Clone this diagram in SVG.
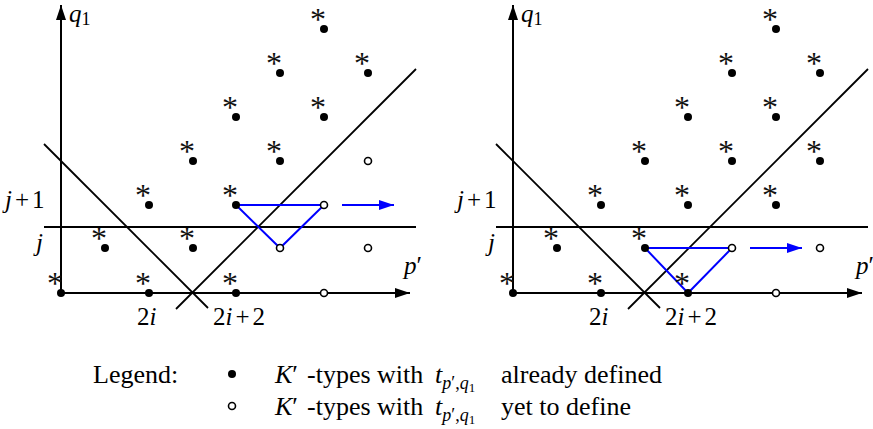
<svg xmlns="http://www.w3.org/2000/svg" width="873" height="429" viewBox="0 0 873 429">
<style>
.ax{stroke:#000;stroke-width:2;fill:none}
.ln{stroke:#000;stroke-width:1.8;fill:none}
.bl{stroke:#0000ff;stroke-width:2;fill:none}
.f{fill:#000}
.o{fill:#fff;stroke:#000;stroke-width:1.6}
.st{font-size:32px;fill:#111;text-anchor:middle}
.lb{font-size:25px;fill:#000}
.lg{font-size:26px;fill:#000}
.it{font-style:italic}
</style>
<defs>
<marker id="ak" markerUnits="userSpaceOnUse" markerWidth="16" markerHeight="10" refX="15" refY="5" orient="auto"><path d="M0,0 L15,5 L0,10 z" fill="#000"/></marker>
<marker id="ab" markerUnits="userSpaceOnUse" markerWidth="16" markerHeight="10" refX="15" refY="5" orient="auto"><path d="M0,0 L15,5 L0,10 z" fill="#0000ff"/></marker>
<g id="star"><text class="st" x="0" y="0" font-family="Liberation Serif">*</text></g>
</defs>
<g font-family="Liberation Serif">
<g id="left-panel">
<g id="connectors-left">
<line class="ax" x1="61" y1="293" x2="410" y2="293" marker-end="url(#ak)"/>
<line class="ax" x1="61" y1="293" x2="61" y2="5" marker-end="url(#ak)"/>
<line class="ln" x1="44" y1="227" x2="416" y2="227"/>
<line class="ln" x1="44" y1="144" x2="208" y2="308"/>
<line class="ln" x1="176" y1="309" x2="416" y2="69"/>
<polygon class="bl" points="236,205 324,205 280,248"/>
<line class="bl" x1="342" y1="205" x2="394" y2="205" marker-end="url(#ab)"/>
</g>
<g id="points-left">
<circle class="f" cx="61" cy="293" r="4"/><circle class="f" cx="149" cy="293" r="4"/><circle class="f" cx="236" cy="293" r="4"/><circle class="o" cx="324" cy="293" r="3.5"/>
<circle class="f" cx="105" cy="248" r="4"/><circle class="f" cx="193" cy="248" r="4"/><circle class="o" cx="280" cy="248" r="3.5"/><circle class="o" cx="368" cy="248" r="3.5"/>
<circle class="f" cx="149" cy="205" r="4"/><circle class="f" cx="236" cy="205" r="4"/><circle class="o" cx="324" cy="205" r="3.5"/>
<circle class="f" cx="193" cy="161" r="4"/><circle class="f" cx="280" cy="161" r="4"/><circle class="o" cx="368" cy="161" r="3.5"/>
<circle class="f" cx="236" cy="117" r="4"/><circle class="f" cx="324" cy="117" r="4"/>
<circle class="f" cx="280" cy="73" r="4"/><circle class="f" cx="368" cy="73" r="4"/>
<circle class="f" cx="324" cy="29" r="4"/>
</g>
<g id="stars-left">
<use href="#star" x="55" y="294"/><use href="#star" x="143" y="294"/><use href="#star" x="230" y="294"/>
<use href="#star" x="99" y="249"/><use href="#star" x="187" y="249"/>
<use href="#star" x="143" y="206"/><use href="#star" x="230" y="206"/>
<use href="#star" x="187" y="162"/><use href="#star" x="274" y="162"/>
<use href="#star" x="230" y="118"/><use href="#star" x="318" y="118"/>
<use href="#star" x="274" y="74"/><use href="#star" x="362" y="74"/>
<use href="#star" x="318" y="30"/>
</g>
<g id="labels-left">
<text class="lb" x="69" y="22"><tspan class="it">q</tspan><tspan font-size="18" dy="3">1</tspan></text>
<text class="lb" x="5" y="208"><tspan class="it">j</tspan><tspan dx="3">+</tspan><tspan dx="3">1</tspan></text>
<text class="lb it" x="36" y="251">j</text>
<text class="lb" x="404" y="274"><tspan class="it">p</tspan>′</text>
<text class="lb" x="137" y="325">2<tspan class="it">i</tspan></text>
<text class="lb" x="213" y="325">2<tspan class="it">i</tspan><tspan dx="3">+</tspan><tspan dx="3">2</tspan></text>
</g>
</g>

<g id="right-panel">
<g id="connectors-right">
<line class="ax" x1="513" y1="293" x2="862" y2="293" marker-end="url(#ak)"/>
<line class="ax" x1="513" y1="293" x2="513" y2="5" marker-end="url(#ak)"/>
<line class="ln" x1="496" y1="227" x2="868" y2="227"/>
<line class="ln" x1="496" y1="144" x2="660" y2="308"/>
<line class="ln" x1="628" y1="309" x2="868" y2="69"/>
<polygon class="bl" points="645,248 732,248 688,293"/>
<line class="bl" x1="750" y1="248" x2="802" y2="248" marker-end="url(#ab)"/>
</g>
<g id="points-right">
<circle class="f" cx="513" cy="293" r="4"/><circle class="f" cx="601" cy="293" r="4"/><circle class="f" cx="688" cy="293" r="4"/><circle class="o" cx="776" cy="293" r="3.5"/>
<circle class="f" cx="557" cy="248" r="4"/><circle class="f" cx="645" cy="248" r="4"/><circle class="o" cx="732" cy="248" r="3.5"/><circle class="o" cx="820" cy="248" r="3.5"/>
<circle class="f" cx="601" cy="205" r="4"/><circle class="f" cx="688" cy="205" r="4"/><circle class="f" cx="776" cy="205" r="4"/>
<circle class="f" cx="645" cy="161" r="4"/><circle class="f" cx="732" cy="161" r="4"/><circle class="f" cx="820" cy="161" r="4"/>
<circle class="f" cx="688" cy="117" r="4"/><circle class="f" cx="776" cy="117" r="4"/>
<circle class="f" cx="732" cy="73" r="4"/><circle class="f" cx="820" cy="73" r="4"/>
<circle class="f" cx="776" cy="29" r="4"/>
</g>
<g id="stars-right">
<use href="#star" x="507" y="294"/><use href="#star" x="595" y="294"/><use href="#star" x="682" y="294"/>
<use href="#star" x="551" y="249"/><use href="#star" x="639" y="249"/>
<use href="#star" x="595" y="206"/><use href="#star" x="682" y="206"/><use href="#star" x="770" y="206"/>
<use href="#star" x="639" y="162"/><use href="#star" x="726" y="162"/><use href="#star" x="814" y="162"/>
<use href="#star" x="682" y="118"/><use href="#star" x="770" y="118"/>
<use href="#star" x="726" y="74"/><use href="#star" x="814" y="74"/>
<use href="#star" x="770" y="30"/>
</g>
<g id="labels-right">
<text class="lb" x="521" y="22"><tspan class="it">q</tspan><tspan font-size="18" dy="3">1</tspan></text>
<text class="lb" x="457" y="208"><tspan class="it">j</tspan><tspan dx="3">+</tspan><tspan dx="3">1</tspan></text>
<text class="lb it" x="488" y="251">j</text>
<text class="lb" x="856" y="274"><tspan class="it">p</tspan>′</text>
<text class="lb" x="589" y="325">2<tspan class="it">i</tspan></text>
<text class="lb" x="665" y="325">2<tspan class="it">i</tspan><tspan dx="3">+</tspan><tspan dx="3">2</tspan></text>
</g>
</g>

<g id="legend">
<text class="lg" x="93" y="383">Legend:</text>
<circle class="f" cx="232" cy="374" r="4"/>
<text class="lg" x="275" y="383"><tspan class="it">K</tspan>′</text>
<text class="lg" x="307" y="383">-types with</text>
<text class="lg" x="435" y="383"><tspan class="it">t</tspan><tspan font-size="18" dy="6"><tspan class="it">p</tspan>′,<tspan class="it">q</tspan><tspan font-size="13" dy="3">1</tspan></tspan></text>
<text class="lg" x="501" y="383">already defined</text>
<circle class="o" cx="232" cy="406" r="3.5" stroke-width="1.2"/>
<text class="lg" x="275" y="415"><tspan class="it">K</tspan>′</text>
<text class="lg" x="307" y="415">-types with</text>
<text class="lg" x="435" y="415"><tspan class="it">t</tspan><tspan font-size="18" dy="6"><tspan class="it">p</tspan>′,<tspan class="it">q</tspan><tspan font-size="13" dy="3">1</tspan></tspan></text>
<text class="lg" x="501" y="415">yet to define</text>
</g>
</g>
</svg>
